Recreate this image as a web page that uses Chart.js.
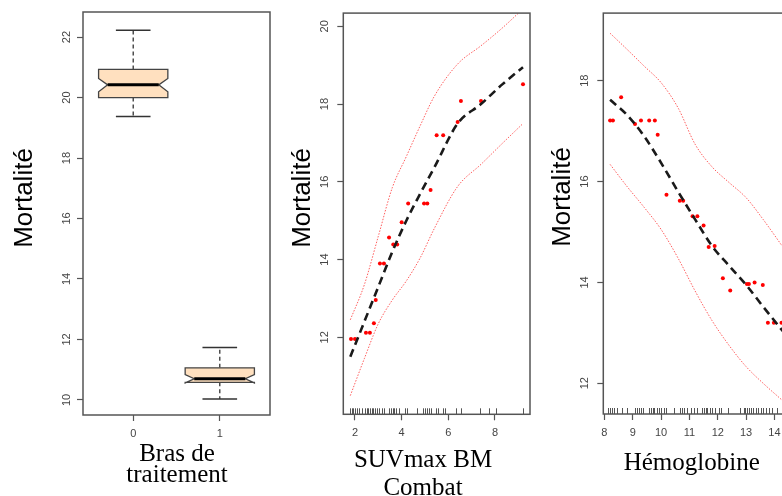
<!DOCTYPE html>
<html>
<head>
<meta charset="utf-8">
<script src="https://cdn.jsdelivr.net/npm/chart.js@4.4.0/dist/chart.umd.min.js"></script>
<style>
  html, body { margin: 0; padding: 0; background: #fff; overflow: hidden; }
  #wrap { position: relative; width: 782px; height: 496px; overflow: hidden; }
  #wrap canvas { position: absolute; top: 0; }
</style>
</head>
<body>
<div id="wrap">
  <canvas id="boxChart" width="280" height="496" style="left:0"></canvas>
  <canvas id="suvChart" width="260" height="496" style="left:280px"></canvas>
  <canvas id="hbChart" width="260" height="496" style="left:540px"></canvas>
</div>
<script>
// Panel 1 : bras de traitement (boxplot)
const armCategories = ['0', '1'];
const armWhiskerLow = [19.37, 10.03];
const armQ1 = [20.0, 10.58];
const armMedian = [20.42, 10.70];
const armQ3 = [20.93, 11.06];
const armWhiskerHigh = [22.23, 11.73];
const armNotchLow = [20.19, 10.56];
const armNotchHigh = [20.63, 10.84];
const armYTicks = [10, 12, 14, 16, 18, 20, 22];

// Panel 2 : SUVmax BM Combat
const suvGrid = [1.8, 2.4, 3.0, 3.6, 4.2, 4.8, 5.4, 6.4, 7.4, 8.3, 9.2];
const suvFit = [11.5, 12.4, 13.3, 14.2, 15.0, 15.7, 16.37, 17.5, 18.0, 18.5, 18.95];
const suvUpper = [12.45, 13.35, 14.6, 15.85, 16.65, 17.45, 18.2, 19.03, 19.5, 19.95, 20.45];
const suvLower = [10.5, 11.45, 12.35, 12.96, 13.45, 14.05, 14.8, 15.88, 16.45, 16.98, 17.5];
const suvPointX = [1.83, 2.0, 2.47, 2.64, 2.81, 2.89, 3.07, 3.24, 3.46, 3.64, 3.81, 4.0, 4.28,
  4.96, 5.1, 5.24, 5.5, 5.78, 6.4, 6.54, 7.4, 9.2];
const suvPointY = [11.96, 11.96, 12.12, 12.12, 12.36, 12.96, 13.9, 13.9, 14.57, 14.39, 14.39, 14.96, 15.44,
  15.44, 15.44, 15.79, 17.2, 17.2, 17.54, 18.08, 18.08, 18.51];
const suvRug = [1.79, 1.86, 1.93, 2.0, 2.1, 2.19, 2.29, 2.43, 2.5, 2.57, 2.64, 2.71, 2.79, 2.86, 2.96,
  3.04, 3.14, 3.24, 3.47, 3.53, 3.61, 3.68, 3.76, 3.9, 4.16, 4.24, 4.67, 4.93, 5.0, 5.1, 5.18, 5.24,
  5.47, 5.57, 5.76, 5.85, 6.35, 6.53, 7.35, 7.73, 8.04, 9.18];
const suvXTicks = [2, 4, 6, 8];
const suvYTicks = [12, 14, 16, 18, 20];

// Panel 3 : Hemoglobine
const hbGrid = [8.2, 8.8, 9.4, 10.0, 10.6, 11.2, 11.8, 12.4, 13.0, 13.6, 14.3];
const hbFit = [17.62, 17.32, 16.9, 16.37, 15.8, 15.25, 14.72, 14.33, 13.95, 13.52, 13.03];
const hbUpper = [18.94, 18.62, 18.29, 17.96, 17.46, 16.74, 16.29, 15.98, 15.68, 15.25, 14.7];
const hbLower = [16.34, 15.9, 15.49, 15.05, 14.48, 13.83, 13.24, 12.75, 12.33, 12.0, 11.65];
const hbPointX = [8.2, 8.3, 8.59, 9.08, 9.29, 9.58, 9.78, 9.88, 10.19, 10.66, 10.78, 11.11, 11.28,
  11.5, 11.68, 11.89, 12.18, 12.44, 13.03, 13.1, 13.3, 13.59, 13.77, 13.98, 14.25];
const hbPointY = [17.21, 17.21, 17.67, 17.14, 17.21, 17.21, 17.21, 16.93, 15.74, 15.62, 15.62, 15.31, 15.31,
  15.13, 14.7, 14.72, 14.08, 13.84, 13.97, 13.97, 14.0, 13.95, 13.2, 13.2, 13.2];
const hbRug = [8.11, 8.18, 8.26, 8.34, 8.46, 8.61, 8.79, 9.08, 9.14, 9.22, 9.29, 9.37, 9.57, 9.63, 9.7,
  9.76, 9.84, 9.91, 9.98, 10.1, 10.17, 10.45, 10.66, 10.74, 10.81, 10.9, 11.07, 11.15, 11.25, 11.46,
  11.52, 11.57, 11.63, 11.72, 11.79, 11.89, 12.03, 12.13, 12.36, 12.77, 12.91, 12.97, 13.04, 13.12,
  13.18, 13.26, 13.36, 13.41, 13.52, 13.61, 13.71, 13.82, 13.92, 14.1, 14.25];
const hbXTicks = [8, 9, 10, 11, 12, 13, 14];
const hbYTicks = [12, 14, 16, 18];

const zip = (xs, ys) => xs.map((x, i) => ({x: x, y: ys[i]}));

function axis(min, max, ticks, pad, size, vertical) {
  const a = {
    type: 'linear', min: min, max: max,
    afterBuildTicks: s => { s.ticks = ticks.map(v => ({value: v})); },
    afterFit: s => { if (vertical) s.width = size; else s.height = size; },
    grid: {drawOnChartArea: false, drawTicks: true, tickLength: 6, color: '#555', tickWidth: 1.2},
    border: {display: false},
    ticks: {autoSkip: false, padding: pad, color: '#444', font: {family: 'Liberation Sans', size: 11}}
  };
  if (vertical) {
    a.ticks.minRotation = 90;
    a.ticks.maxRotation = 90;
    a.ticks.crossAlign = 'center';
  }
  return a;
}

const frame = {
  id: 'frame',
  afterDatasetsDraw(chart) {
    const {ctx, chartArea: a} = chart;
    ctx.save();
    ctx.strokeStyle = '#555';
    ctx.lineWidth = 1.5;
    ctx.strokeRect(a.left, a.top, a.right - a.left, a.bottom - a.top);
    ctx.restore();
  }
};

function rug(values) {
  return {
    id: 'rug',
    afterDatasetsDraw(chart) {
      const {ctx, chartArea: a, scales: {x}} = chart;
      ctx.save();
      ctx.strokeStyle = '#555';
      ctx.lineWidth = 1;
      ctx.beginPath();
      values.forEach(v => {
        const px = Math.round(x.getPixelForValue(v)) + 0.5;
        if (px < a.left || px > a.right) return;
        ctx.moveTo(px, a.bottom);
        ctx.lineTo(px, a.bottom - 6);
      });
      ctx.stroke();
      ctx.restore();
    }
  };
}

function axisText(xLines, xCenter, xBaseline, xGap, yText, yBaseline, yMiddle) {
  return {
    id: 'axisText',
    afterDraw(chart) {
      const ctx = chart.ctx;
      ctx.save();
      ctx.fillStyle = '#000';
      ctx.textAlign = 'center';
      ctx.textBaseline = 'alphabetic';
      ctx.font = '25px "Liberation Serif"';
      xLines.forEach((t, i) => ctx.fillText(t, xCenter, xBaseline + i * xGap));
      ctx.font = '26px "Liberation Sans"';
      ctx.translate(yBaseline, yMiddle);
      ctx.rotate(-Math.PI / 2);
      ctx.fillText(yText, 0, 0);
      ctx.restore();
    }
  };
}

const boxWidth = 0.8;
const notchIndent = 0.105;
const boxplot = {
  id: 'boxplot',
  afterDatasetsDraw(chart) {
    const {ctx, scales: {x, y}} = chart;
    armCategories.forEach((c, i) => {
      const pos = i + 1;
      const xc = x.getPixelForValue(pos);
      const xl = x.getPixelForValue(pos - boxWidth / 2);
      const xr = x.getPixelForValue(pos + boxWidth / 2);
      const d = x.getPixelForValue(pos + notchIndent) - xc;
      const capL = x.getPixelForValue(pos - boxWidth / 4);
      const capR = x.getPixelForValue(pos + boxWidth / 4);
      const yLo = y.getPixelForValue(armWhiskerLow[i]);
      const yQ1 = y.getPixelForValue(armQ1[i]);
      const yMed = y.getPixelForValue(armMedian[i]);
      const yQ3 = y.getPixelForValue(armQ3[i]);
      const yHi = y.getPixelForValue(armWhiskerHigh[i]);
      const nLo = y.getPixelForValue(armNotchLow[i]);
      const nHi = y.getPixelForValue(armNotchHigh[i]);
      ctx.save();
      // whiskers
      ctx.strokeStyle = '#333';
      ctx.lineWidth = 1.3;
      ctx.setLineDash([4, 3]);
      ctx.beginPath();
      ctx.moveTo(xc, yQ3); ctx.lineTo(xc, yHi);
      ctx.moveTo(xc, yQ1); ctx.lineTo(xc, yLo);
      ctx.stroke();
      ctx.setLineDash([]);
      ctx.lineWidth = 1.5;
      ctx.beginPath();
      ctx.moveTo(capL, yHi); ctx.lineTo(capR, yHi);
      ctx.moveTo(capL, yLo); ctx.lineTo(capR, yLo);
      ctx.stroke();
      // notched box
      ctx.beginPath();
      ctx.moveTo(xl, yQ1);
      ctx.lineTo(xl, nLo);
      ctx.lineTo(xl + d, yMed);
      ctx.lineTo(xl, nHi);
      ctx.lineTo(xl, yQ3);
      ctx.lineTo(xr, yQ3);
      ctx.lineTo(xr, nHi);
      ctx.lineTo(xr - d, yMed);
      ctx.lineTo(xr, nLo);
      ctx.lineTo(xr, yQ1);
      ctx.closePath();
      ctx.fillStyle = '#FFE0BF';
      ctx.fill();
      ctx.strokeStyle = '#444';
      ctx.lineWidth = 1.3;
      ctx.stroke();
      // median
      ctx.strokeStyle = '#000';
      ctx.lineWidth = 3;
      ctx.beginPath();
      ctx.moveTo(xl + d, yMed); ctx.lineTo(xr - d, yMed);
      ctx.stroke();
      ctx.restore();
    });
  }
};

const baseOptions = (xAxis, yAxis, pad) => ({
  responsive: false,
  devicePixelRatio: 1,
  animation: false,
  layout: {padding: pad},
  scales: {x: xAxis, y: yAxis},
  plugins: {legend: {display: false}, tooltip: {enabled: false}}
});

// Panel 1
const armX = axis(0.42, 2.58, [1, 2], 6, 81, false);
armX.ticks.callback = v => armCategories[v - 1];
new Chart(document.getElementById('boxChart'), {
  type: 'scatter',
  data: {datasets: [{data: zip([1, 2], armMedian), pointRadius: 0}]},
  options: baseOptions(armX, axis(9.5, 22.83, armYTicks, 4, 83, true),
    {top: 12, right: 10, left: 0, bottom: 0}),
  plugins: [boxplot, frame, axisText(['Bras de', 'traitement'], 177, 461, 21, 'Mortalité', 31.5, 198)]
});

function curveSets(grid, fit, upper, lower, px, py) {
  const ci = vals => ({
    type: 'line', data: zip(grid, vals), borderColor: 'rgba(255,40,40,0.75)', borderWidth: 1,
    borderDash: [1.5, 1.5], pointRadius: 0, cubicInterpolationMode: 'monotone', fill: false
  });
  return [
    {type: 'scatter', data: zip(px, py), pointRadius: 2, pointBackgroundColor: '#ff0000',
      pointBorderWidth: 0, order: 2},
    Object.assign(ci(upper), {order: 3}),
    Object.assign(ci(lower), {order: 3}),
    {type: 'line', data: zip(grid, fit), borderColor: '#1a1a1a', borderWidth: 2.6,
      borderDash: [8, 5], pointRadius: 0, cubicInterpolationMode: 'monotone', fill: false, order: 1}
  ];
}

// Panel 2
new Chart(document.getElementById('suvChart'), {
  type: 'scatter',
  data: {datasets: curveSets(suvGrid, suvFit, suvUpper, suvLower, suvPointX, suvPointY)},
  options: baseOptions(axis(1.5, 9.5, suvXTicks, 6, 81.7, false),
    axis(10.02, 20.34, suvYTicks, 6.5, 63.3, true),
    {top: 12.7, right: 10, left: 0, bottom: 0}),
  plugins: [rug(suvRug), frame, axisText(['SUVmax BM', 'Combat'], 143, 467, 28, 'Mortalité', 30, 198)]
});

// Panel 3
new Chart(document.getElementById('hbChart'), {
  type: 'scatter',
  data: {datasets: curveSets(hbGrid, hbFit, hbUpper, hbLower, hbPointX, hbPointY)},
  options: baseOptions(axis(7.96, 14.55, hbXTicks, 6, 82, false),
    axis(11.39, 19.34, hbYTicks, 6.5, 63.3, true),
    {top: 12.3, right: 10, left: 0, bottom: 0}),
  plugins: [rug(hbRug), frame, axisText(['Hémoglobine'], 151.7, 470, 0, 'Mortalité', 30, 197)]
});
</script>
</body>
</html>
